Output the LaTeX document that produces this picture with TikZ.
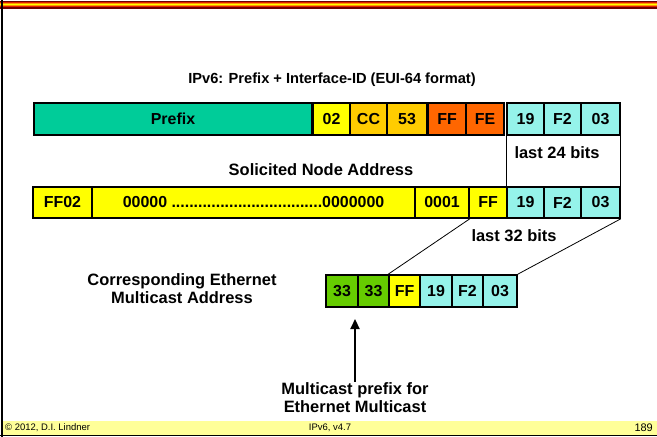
\documentclass[tikz,border=0pt]{standalone}
\usepackage{fontspec}
\setmainfont{Liberation Sans}
\usetikzlibrary{arrows.meta,positioning}
\definecolor{prefixgreen}{HTML}{00CC99}
\definecolor{cellyellow}{HTML}{FFFF00}
\definecolor{cellgold}{HTML}{FFCC00}
\definecolor{cellorange}{HTML}{FF6600}
\definecolor{idcyan}{HTML}{95F3EA}
\definecolor{ethgreen}{HTML}{66CC00}
\definecolor{footyellow}{HTML}{FFFF99}
\definecolor{stripered}{HTML}{E02000}
\definecolor{stripeorange}{HTML}{FF9900}
\definecolor{stripedark}{HTML}{700000}

\begin{document}
\begin{tikzpicture}[x=1bp,y=-1bp,
    cell/.style={draw,line width=1.6bp,inner sep=0pt,font=\fontsize{16}{18}\selectfont\bfseries},
    label/.style={font=\fontsize{16.5}{18}\selectfont\bfseries,align=center,inner sep=1bp},
    foot/.style={font=\fontsize{9.5}{11}\selectfont,inner sep=0pt},
    link/.style={line width=0.8bp},
    arrow/.style={line width=2.2bp,-{Triangle[length=10bp,width=9bp]}}]
    \useasboundingbox (0,0) rectangle (657,437);
    \foreach \y/\c in {1.5/stripedark,2.7/stripered,4/stripeorange,5/cellyellow,6/stripeorange,7.2/stripered,8.2/stripedark} {
        \fill[\c] (0,\y-0.7) rectangle (657,\y+0.7);
    }
    \fill[footyellow] (3,421) rectangle (657,435);
    \draw[line width=1.2bp] (0,435.5) -- (657,435.5);
    \draw[line width=2bp] (2,0) -- (2,437);
    \node[label,font=\fontsize{14.7}{17}\selectfont\bfseries] (title) at (332,80) {IPv6: Prefix + Interface-ID (EUI-64 format)};
    \foreach \i/\x/\w/\t/\c in {1/173/278/Prefix/prefixgreen,2/331.5/37/02/cellyellow,3/368.5/37/CC/cellgold,4/407/40/53/cellgold,5/447/38/FF/cellorange,6/485/38/FE/cellorange,7/525.5/37/19/idcyan,8/562.5/37/F2/idcyan,9/600.5/39/03/idcyan} {
        \node[cell,fill=\c,minimum width=\w bp,minimum height=32bp] (ip\i) at (\x,119) {\t};
    }
    \node[label] (solicited) at (321,170) {Solicited Node Address};
    \node[label] (last24) at (557,153) {last 24 bits};
    \foreach \i/\x/\w/\t/\c in {1/62.5/59/FF02/cellyellow,3/442/54/0001/cellyellow,4/488/38/FF/cellyellow,5/525.5/37/19/idcyan,6/562.5/37/F2/idcyan,7/600.5/39/03/idcyan} {
        \node[cell,fill=\c,minimum width=\w bp,minimum height=31bp] (sn\i) at (\x,202.5) {\t};
    }
    \node[cell,fill=cellyellow,minimum width=323bp,minimum height=31bp] (sn2) at (253.5,202.5) {00000 ..................................0000000};
    \node[label] (last32) at (514,236) {last 32 bits};
    \foreach \i/\x/\w/\t/\c in {1/342/32/33/ethgreen,2/373.5/31/33/ethgreen,3/404.5/31/FF/cellyellow,4/436/32/19/idcyan,5/467.5/31/F2/idcyan,6/500/34/03/idcyan} {
        \node[cell,fill=\c,minimum width=\w bp,minimum height=32bp] (eth\i) at (\x,291) {\t};
    }
    \node[label] (ethlabel) at (182,289) {Corresponding Ethernet\\Multicast Address};
    \node[label] (mcprefix) at (355,398) {Multicast prefix for\\Ethernet Multicast};
    \coordinate (tip) at (355,319);
    \draw[link] (ip7.south west) -- (sn5.north west);
    \draw[link] (ip9.south east) -- (sn7.north east);
    \draw[link] (sn3.south east) -- (eth3.north west);
    \draw[link] (sn7.south east) -- (eth6.north east);
    \draw[arrow] (mcprefix.north) -- (tip);
    \node[foot,anchor=west] (copy) at (5,428) {© 2012, D.I. Lindner};
    \node[foot] (version) at (330,428) {IPv6, v4.7};
    \node[foot,anchor=east,font=\fontsize{11}{12}\selectfont] (page) at (653,428) {189};
\end{tikzpicture}
\end{document}
